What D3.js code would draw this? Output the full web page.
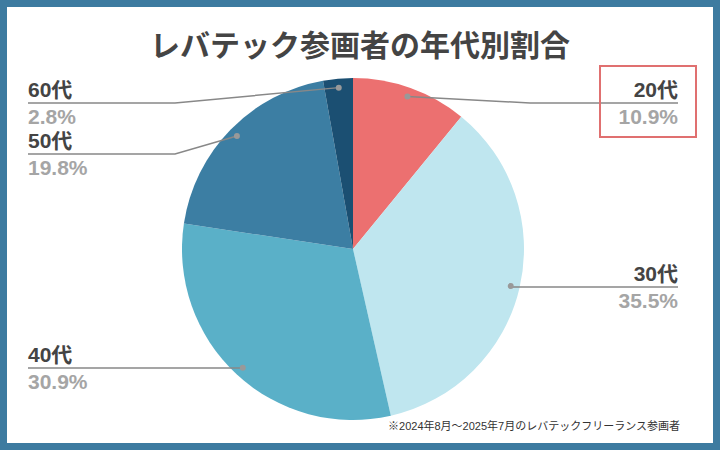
<!DOCTYPE html><html><head><meta charset="utf-8"><script src="https://cdn.jsdelivr.net/npm/d3@7"></script>
<style>body{margin:0}svg{display:block;font-family:"Liberation Sans","Noto Sans CJK JP",sans-serif}</style></head><body><svg width="720" height="450"></svg>
<script>
const categories=["20代","30代","40代","50代","60代"];
const values=[10.9,35.5,30.9,19.8,2.8];
const colors=["#ec7070","#bfe6ef","#5ab0c8","#3c7ea3","#1b4f72"];
const svg=d3.select("svg");
svg.append("rect").attr("x",3.5).attr("y",3.5).attr("width",713).attr("height",443).attr("fill","#fff").attr("stroke","#3d7ba0").attr("stroke-width",7);
svg.append("text").attr("x",360).attr("y",56).attr("text-anchor","middle").attr("font-size",30).attr("font-weight","bold").attr("fill","#444").text("レバテック参画者の年代別割合");
const cx=353,cy=249,r=171;
const pie=d3.pie().sort(null)(values);
const g=svg.append("g").attr("transform",`translate(${cx},${cy})`);
g.selectAll("path").data(pie).join("path").attr("d",d3.arc().innerRadius(0).outerRadius(r)).attr("fill",(d,i)=>colors[i]);
const lay=[["R",103,530],["R",287,null],["L",368,null],["L",154,175],["L",103,175]];
const inner=d3.arc().innerRadius(162).outerRadius(162);
pie.forEach((d,i)=>{
  const [px,py]=inner.centroid(d);const x=cx+px,y=cy+py;
  const [side,ly,ex]=lay[i];
  const endX=side==="R"?678:28;
  const pts=[[x,y]];if(ex)pts.push([ex,ly]);else pts.push([x,ly]);pts.push([endX,ly]);
  svg.append("path").attr("d",d3.line()(pts)).attr("fill","none").attr("stroke","#888").attr("stroke-width",1.5);
  svg.append("circle").attr("cx",x).attr("cy",y).attr("r",3).attr("fill","#999");
  const anchor=side==="R"?"end":"start";
  svg.append("text").attr("x",endX).attr("y",ly-6).attr("text-anchor",anchor).attr("font-size",21).attr("font-weight","bold").attr("fill","#444").text(categories[i]);
  svg.append("text").attr("x",endX).attr("y",ly+21).attr("text-anchor",anchor).attr("font-size",21).attr("font-weight","bold").attr("fill","#a5a5a5").text(values[i].toFixed(1)+"%");
});
svg.append("rect").attr("x",600).attr("y",66).attr("width",96).attr("height",71).attr("fill","none").attr("stroke","#e07070").attr("stroke-width",2);
svg.append("text").attr("x",680).attr("y",430).attr("text-anchor","end").attr("font-size",11).attr("fill","#333").text("※2024年8月～2025年7月のレバテックフリーランス参画者");
</script></body></html>
